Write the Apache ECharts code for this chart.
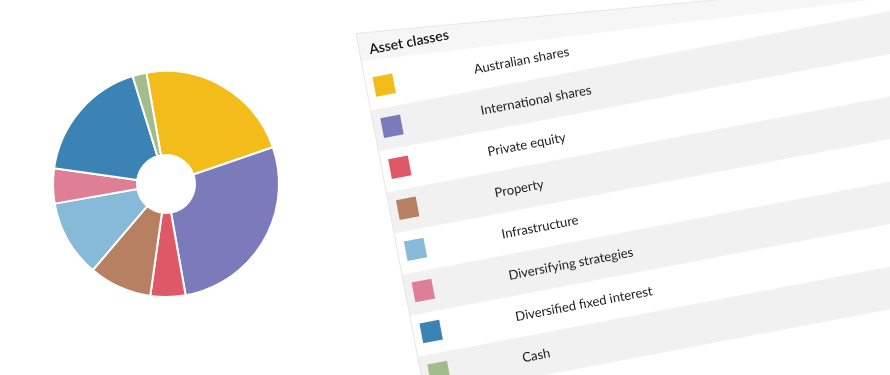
<!DOCTYPE html>
<html>
<head>
<meta charset="utf-8">
<script src="https://cdn.jsdelivr.net/npm/echarts@6/dist/echarts.min.js"></script>
<style>
html,body{margin:0;padding:0;background:#fff;}
#chart{width:890px;height:375px;}
</style>
</head>
<body>
<div id="chart"></div>
<script>
const categories = ['Australian shares','International shares','Private equity','Property','Infrastructure','Diversifying strategies','Diversified fixed interest','Cash'];
const values = [22.5, 27.5, 5, 9, 11, 5, 18, 2];
const tableTitle = 'Asset classes';
const palette = ['#F2BC1B','#7B7BBB','#DF5867','#B88062','#87B9D9','#DE7F96','#3A83B4','#A2BC8B'];

const chart = echarts.init(document.getElementById('chart'));

const W = 620;
const rowPitch = 41.8;
const children = [];
// header wedge
children.push({type:'polygon', shape:{points:[[0,0],[W,0.0957*W],[W,28.6+0.068*W],[0,28.6]]}, style:{fill:'#f6f6f6'}});
categories.forEach((c,i)=>{
  const top = 36.5 + rowPitch*i;
  if (i % 2 === 1) {
    children.push({type:'rect', shape:{x:0,y:top,width:W,height:rowPitch}, style:{fill:'#f1f1f1'}});
  }
});
children.push({type:'line', shape:{x1:0,y1:0,x2:W,y2:0.0957*W}, style:{stroke:'#e6e6e6',lineWidth:1}});
children.push({type:'line', shape:{x1:0,y1:0,x2:0,y2:460}, style:{stroke:'#e6e6e6',lineWidth:1}});
children.push({type:'text', style:{text:tableTitle, x:10, y:18.5, font:'600 14px Lato', fill:'#111', textAlign:'left', textVerticalAlign:'middle'}});
categories.forEach((c,i)=>{
  const sc = 56 + rowPitch*i;
  children.push({type:'rect', shape:{x:8,y:sc-10,width:20,height:20}, style:{fill:palette[i]}});
  children.push({type:'text', style:{text:c, x:109-0.9*i, y:57.6+rowPitch*i, font:'13px Lato', fill:'#1a1a1a', textAlign:'left', textVerticalAlign:'middle'}});
});

chart.setOption({
  animation:false,
  color: palette,
  series:[{
    type:'pie',
    center:[166,184],
    radius:[29,113],
    startAngle:100,
    clockwise:true,
    label:{show:false},
    labelLine:{show:false},
    emphasis:{disabled:true},
    itemStyle:{borderColor:'#fff', borderWidth:2},
    data: categories.map((c,i)=>({name:c, value:values[i]}))
  }],
  graphic:[{type:'group', x:356, y:33.5, rotation:10.8*Math.PI/180, silent:true, children}]
});
</script>
</body>
</html>
